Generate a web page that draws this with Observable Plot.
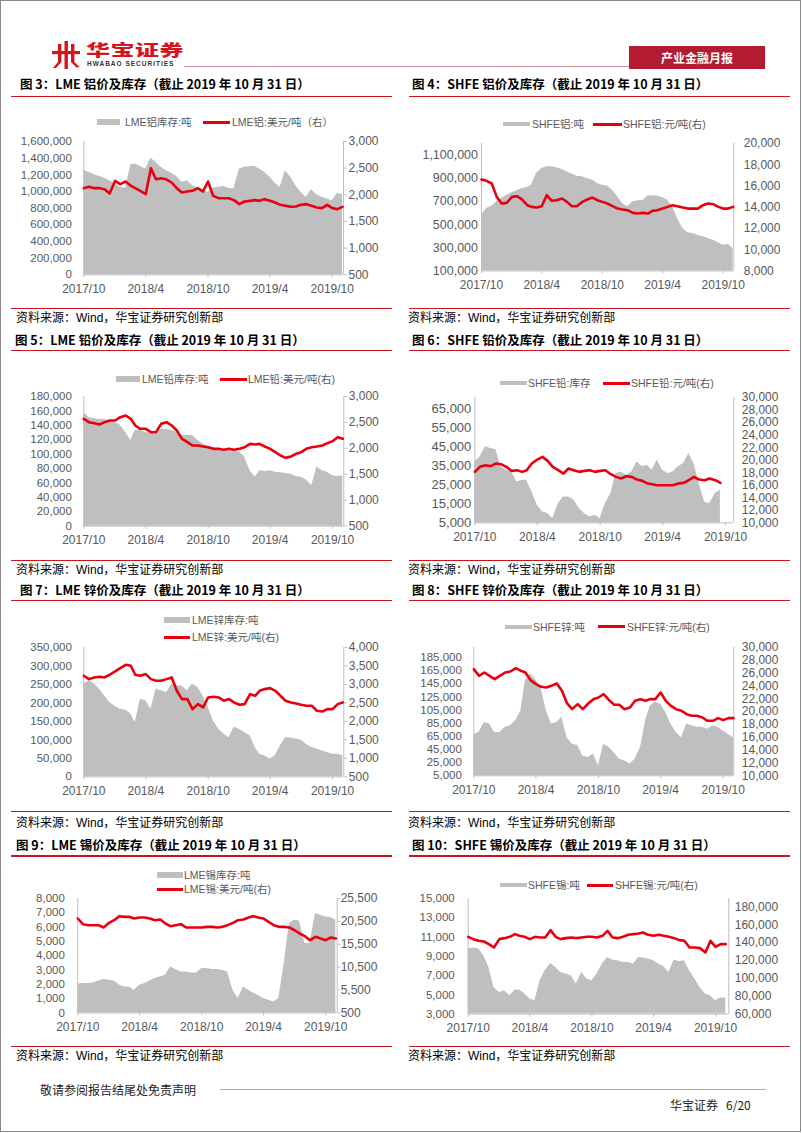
<!DOCTYPE html>
<html><head><meta charset="utf-8">
<script src="https://cdn.jsdelivr.net/npm/d3@7"></script>
<script src="https://cdn.jsdelivr.net/npm/@observablehq/plot@0.6"></script>
<style>
body{margin:0;background:#fff;}
#page{position:relative;width:802px;height:1133px;overflow:hidden;background:#fff;font-family:"Liberation Sans",Arial,"Noto Sans CJK SC",sans-serif;}
.frame{position:absolute;left:0;top:0;width:801px;height:1132px;border:1px solid #8a8a8a;box-sizing:border-box;}
.t{position:absolute;white-space:nowrap;line-height:1;transform:translateY(-50%);}
.title{font-family:"Noto Sans CJK SC",sans-serif;font-weight:700;font-size:12.5px;color:#000;}
.src{font-family:"Liberation Sans","Noto Sans CJK SC",sans-serif;font-size:12px;color:#000;}
.leg{font-family:"Liberation Sans","Noto Sans CJK SC",sans-serif;font-size:10.5px;color:#595959;}
.hl{position:absolute;background:#c8161e;height:1.6px;}
.sw{position:absolute;}
.chart{position:absolute;}
</style></head>
<body><div id="page"><div class="frame"></div></div>
<script>
// ---------- data ----------
const dates = ["2017-10-01","2017-10-16","2017-11-01","2017-11-16","2017-12-01","2017-12-16","2018-01-01","2018-01-16","2018-02-01","2018-02-16","2018-03-01","2018-03-16","2018-04-01","2018-04-16","2018-05-01","2018-05-16","2018-06-01","2018-06-16","2018-07-01","2018-07-16","2018-08-01","2018-08-16","2018-09-01","2018-09-16","2018-10-01","2018-10-16","2018-11-01","2018-11-16","2018-12-01","2018-12-16","2019-01-01","2019-01-16","2019-02-01","2019-02-16","2019-03-01","2019-03-16","2019-04-01","2019-04-16","2019-05-01","2019-05-16","2019-06-01","2019-06-16","2019-07-01","2019-07-16","2019-08-01","2019-08-16","2019-09-01","2019-09-16","2019-10-01","2019-10-16","2019-10-31"];
const xTickDates = ["2017-10-01","2018-04-01","2018-10-01","2019-04-01","2019-10-01"];
const xTickLabels = ["2017/10","2018/4","2018/10","2019/4","2019/10"];

const alLmeStock = [1256000,1230000,1200000,1180000,1160000,1130000,1090000,1050000,1040000,1320000,1330000,1300000,1270000,1400000,1350000,1290000,1250000,1220000,1180000,1110000,1130000,1070000,1040000,1020000,990000,1040000,1050000,1060000,1040000,1030000,1270000,1290000,1300000,1300000,1270000,1230000,1170000,1100000,1050000,1250000,1170000,1070000,990000,930000,1020000,960000,930000,910000,890000,980000,960000];
const alLmePrice = [2125,2150,2125,2125,2106,2025,2262,2200,2250,2170,2125,2075,2012,2500,2293,2312,2287,2231,2125,2044,2062,2075,2125,2062,2250,1981,1937,1937,1937,1900,1825,1875,1887,1900,1887,1919,1887,1856,1812,1794,1775,1781,1812,1825,1794,1762,1750,1812,1750,1731,1775];
const alShfeStock = [581000,639000,659000,697000,725000,754000,774000,792000,812000,820000,840000,941000,985000,999000,999000,990000,976000,956000,936000,918000,913000,898000,884000,855000,840000,832000,797000,740000,682000,653000,697000,705000,711000,746000,748000,746000,734000,711000,653000,552000,466000,429000,423000,408000,394000,380000,365000,342000,322000,330000,293000];
const alShfePrice = [16607,16480,16230,14970,14345,14408,14970,15035,14720,14190,14030,13970,14095,15130,14600,14660,14816,14500,14095,14095,14500,14720,14910,14660,14500,14345,14095,13870,13780,13716,13465,13400,13465,13400,13655,13716,13870,14030,14190,14095,13970,13870,13870,13870,14190,14345,14280,14030,13870,13870,14030];
const pbLmeStock = [158000,151000,149000,148000,148000,146000,144000,140000,130000,119000,133000,133000,130000,129000,128000,135000,134000,133000,130000,126000,126000,126000,119000,114000,111000,109000,107000,105000,105000,104000,103000,96000,77000,68000,77000,76000,77000,75000,74000,73000,72000,69000,68000,64000,56000,82000,77000,75000,70000,69000,70000];
const pbLmePrice = [2570,2505,2486,2460,2505,2537,2537,2602,2634,2570,2441,2377,2377,2312,2312,2473,2505,2441,2345,2184,2120,2055,2055,2036,2023,1991,1991,1972,1991,1972,1991,2023,2087,2075,2087,2036,1991,1927,1862,1817,1843,1895,1927,1991,2023,2036,2055,2100,2139,2216,2184];
const pbShfeStock = [37000,39600,44900,44000,43500,34400,32600,31700,26500,27400,27400,21300,14300,10800,9900,7300,15100,18600,18600,17200,12500,9900,8100,9000,7300,15100,20400,30900,31700,30000,31700,37000,34400,35200,32600,37900,32600,30900,31700,34400,36100,41400,36100,25600,16000,15100,20400,22100,null,null,null];
const pbShfePrice = [18138,18936,19202,19043,19468,19362,18936,18298,18404,18138,18404,19468,20106,20532,19894,18936,18404,17872,18670,18404,18138,18298,18404,18138,18298,18404,17766,17340,17074,17447,17340,16915,16702,16277,16170,16010,16010,16010,16010,16277,16383,16808,17340,16915,16808,17074,16808,16383,null,null,null];
const znLmeStock = [251000,260000,251000,237000,219000,201000,190000,183000,180000,170000,147000,210000,206000,183000,237000,233000,228000,251000,246000,246000,233000,251000,242000,219000,188000,152000,129000,116000,106000,134000,129000,120000,111000,79000,61000,57000,48000,57000,84000,106000,105000,102000,99000,88000,79000,75000,70000,66000,61000,61000,57000];
const znLmePrice = [3235,3144,3190,3207,3190,3262,3352,3442,3532,3505,3262,3235,3280,3144,3099,3099,3144,3190,2828,2603,2603,2332,2467,2377,2648,2666,2648,2558,2603,2513,2449,2467,2738,2693,2828,2874,2900,2828,2693,2558,2513,2485,2449,2422,2422,2287,2269,2332,2332,2467,2513];
const znShfeStock = [68000,71000,86000,84000,71000,71000,79000,81000,89000,104000,150000,160000,150000,139000,104000,84000,86000,94000,63000,53000,51000,35000,33000,38000,20000,53000,48000,40000,30000,28000,23000,30000,48000,89000,111000,117000,114000,101000,84000,71000,63000,84000,81000,79000,79000,76000,81000,79000,73000,68000,63000];
const znShfePrice = [26623,25584,26104,25584,25065,25584,26104,26260,26780,26364,26104,24910,24286,23871,23767,24026,24390,23247,21273,20390,21169,20390,21273,21948,22208,22727,21792,21065,21065,20390,20650,21688,21948,21688,21948,21948,22987,21688,20910,20390,20130,19610,19351,19351,19091,18571,18571,18987,18675,18987,18987];
const snLmeStock = [2005,2051,2051,2098,2238,2331,2284,2238,1935,1818,1818,1585,1935,2051,2238,2401,2517,2634,3217,3031,2867,2867,2797,2797,3100,3100,3031,3031,2984,2867,1585,1002,1818,1585,1399,1235,1002,886,769,1002,3450,6247,6480,6434,4849,4849,6946,6830,6713,6667,6480];
const snLmePrice = [21128,19889,19670,19670,19670,19160,20180,20763,21638,21492,21492,21128,21346,21346,21128,20763,20909,20034,19451,19670,19889,19160,19160,19160,19160,19306,19306,19160,19306,19670,20180,20763,20909,21346,21638,21346,21128,20399,19670,19306,19306,19160,18577,17848,17265,16390,17119,16754,16390,16973,16754];
const snShfeStock = [9747,9851,9747,9055,7844,5768,5249,5422,4903,5491,5491,5145,4557,4384,6460,7498,8259,7844,7325,7152,6979,6114,7325,6633,6460,7152,8190,8882,8605,8536,8363,8363,8190,8882,8813,8709,8536,8190,7913,7325,8605,8467,8536,7498,6633,5768,5076,4903,4384,4661,4661];
const snShfePrice = [146443,143835,141972,141227,138246,134520,143835,144953,146443,149424,147561,146443,143835,146443,145698,145698,153895,146443,143835,144953,145698,144953,145698,146443,146443,145698,147561,153150,145698,144953,146443,148679,149424,150169,151287,148679,147561,148679,147561,146443,144953,142717,141972,134520,134520,133775,128931,141972,135265,138246,138246];

const alLmeLeftTicks = [0,200000,400000,600000,800000,1000000,1200000,1400000,1600000];
const alLmeRightTicks = [500,1000,1500,2000,2500,3000];
const alShfeLeftTicks = [100000,300000,500000,700000,900000,1100000];
const alShfeRightTicks = [8000,10000,12000,14000,16000,18000,20000];
const pbLmeLeftTicks = [0,20000,40000,60000,80000,100000,120000,140000,160000,180000];
const pbLmeRightTicks = [500,1000,1500,2000,2500,3000];
const pbShfeLeftTicks = [5000,15000,25000,35000,45000,55000,65000];
const pbShfeRightTicks = [10000,12000,14000,16000,18000,20000,22000,24000,26000,28000,30000];
const znLmeLeftTicks = [0,50000,100000,150000,200000,250000,300000,350000];
const znLmeRightTicks = [500,1000,1500,2000,2500,3000,3500,4000];
const znShfeLeftTicks = [5000,25000,45000,65000,85000,105000,125000,145000,165000,185000];
const znShfeRightTicks = [10000,12000,14000,16000,18000,20000,22000,24000,26000,28000,30000];
const snLmeLeftTicks = [0,1000,2000,3000,4000,5000,6000,7000,8000];
const snLmeRightTicks = [500,5500,10500,15500,20500,25500];
const snShfeLeftTicks = [3000,5000,7000,9000,11000,13000,15000];
const snShfeRightTicks = [60000,80000,100000,120000,140000,160000,180000];

const titles = ["图 3：LME 铝价及库存（截止 2019 年 10 月 31 日）","图 4：SHFE 铝价及库存（截止 2019 年 10 月 31 日）","图 5：LME 铅价及库存（截止 2019 年 10 月 31 日）","图 6：SHFE 铅价及库存（截止 2019 年 10 月 31 日）","图 7：LME 锌价及库存（截止 2019 年 10 月 31 日）","图 8：SHFE 锌价及库存（截止 2019 年 10 月 31 日）","图 9：LME 锡价及库存（截止 2019 年 10 月 31 日）","图 10：SHFE 锡价及库存（截止 2019 年 10 月 31 日）"];
const stockNames = ["LME铝库存:吨","SHFE铝:吨","LME铅库存:吨","SHFE铅:库存","LME锌库存:吨","SHFE锌:吨","LME锡库存:吨","SHFE锡:吨"];
const priceNames = ["LME铝:美元/吨（右）","SHFE铝:元/吨(右)","LME铅:美元/吨(右)","SHFE铅:元/吨(右)","LME锌:美元/吨(右)","SHFE锌:元/吨(右)","LME锡:美元/吨(右)","SHFE锡:元/吨(右)"];
const sourceText = "资料来源：Wind，华宝证券研究创新部";

// ---------- layout ----------
const GRAY = "#bfbfbf", RED = "#e8000f", AXIS = "#bfbfbf", TXT = "#595959";
const page = document.getElementById("page");
function el(cls, x, y, text, style) {
  const d = document.createElement("div");
  d.className = cls; d.style.left = x + "px"; d.style.top = y + "px";
  if (text != null) d.textContent = text;
  if (style) Object.assign(d.style, style);
  page.appendChild(d); return d;
}

const charts = [
  {stock: alLmeStock, price: alLmePrice, left: [0,1600000], right: [500,3000], lt: alLmeLeftTicks, rt: alLmeRightTicks,
   box: [83.3,343,140.7,274], xEnd: "2019-11-03", lpad: 12, lfs: 11.5, rts: 3, rpad: 2, shfe: false,
   leg: [[97,120,122,125],[203,230,122,232]]},
  {stock: alShfeStock, price: alShfePrice, left: [100000,1200000], right: [8000,20000], lt: alShfeLeftTicks, rt: alShfeRightTicks,
   box: [481,733.3,143.3,270.7], xEnd: "2019-11-02", lpad: 3.5, lfs: 12.5, rts: 0, rpad: 10, shfe: true,
   leg: [[503,530,124,532],[593,622,124,623]]},
  {stock: pbLmeStock, price: pbLmePrice, left: [0,180000], right: [500,3000], lt: pbLmeLeftTicks, rt: pbLmeRightTicks,
   box: [83.3,343.3,396,525.7], xEnd: "2019-11-03", lpad: 12, lfs: 11.5, rts: 3, rpad: 2, shfe: false,
   leg: [[116,140,379,142],[220,247,379,248]]},
  {stock: pbShfeStock, price: pbShfePrice, left: [5000,70770], right: [10000,30000], lt: pbShfeLeftTicks, rt: pbShfeRightTicks,
   box: [474.3,733.3,397.3,522.7], xEnd: "2019-10-25", lpad: 3.5, lfs: 13, rts: 0, rpad: 8, shfe: true,
   leg: [[500,527,383,528],[603,630,383,631]]},
  {stock: znLmeStock, price: znLmePrice, left: [0,350000], right: [500,4000], lt: znLmeLeftTicks, rt: znLmeRightTicks,
   box: [83.3,343.3,646.7,776], xEnd: "2019-11-03", lpad: 12, lfs: 11.5, rts: 3, rpad: 2, shfe: false,
   leg: [[164,190,620,192],[164,190,637,192]]},
  {stock: znShfeStock, price: znShfePrice, left: [5000,200230], right: [10000,30000], lt: znShfeLeftTicks, rt: znShfeRightTicks,
   box: [473.3,733.3,646.7,775], xEnd: "2019-11-01", lpad: 12, lfs: 11.5, rts: 0, rpad: 8, shfe: true,
   leg: [[505,532,626.7,533],[598,625,626.7,627]]},
  {stock: snLmeStock, price: snLmePrice, left: [0,8000], right: [500,25500], lt: snLmeLeftTicks, rt: snLmeRightTicks,
   box: [77.3,336.7,898.3,1012.7], xEnd: "2019-11-04", lpad: 13, lfs: 11.5, rts: 2.5, rpad: 1, shfe: false,
   leg: [[157,183,875,184],[157,183,889,184]]},
  {stock: snShfeStock, price: snShfePrice, left: [3000,15000], right: [60000,189300], lt: snShfeLeftTicks, rt: snShfeRightTicks,
   box: [467.7,728.3,897.7,1013.3], xEnd: "2019-11-09", lpad: 13.5, lfs: 11.5, rts: 0, rpad: 6, shfe: true,
   leg: [[500,527,885,528],[587,613,885,615]]}
];
const rowsY = [{title: 83.5, tline: 96.7, sline: 308.3, src: 318}, {title: 340, tline: 350.7, sline: 560.7, src: 570},
               {title: 590, tline: 600.5, sline: 811.7, src: 823}, {title: 845, tline: 856, sline: 1046.7, src: 1056}];
const titleX = [[20,412],[15,412],[20,412],[16,412]];

// header
const logo = document.createElementNS("http://www.w3.org/2000/svg","svg");
logo.setAttribute("width","28"); logo.setAttribute("height","28");
logo.style.position = "absolute"; logo.style.left = "52px"; logo.style.top = "41px";
logo.innerHTML = '<g fill="#d4151f"><rect x="0" y="10" width="28" height="3.2"/><rect x="6" y="3" width="3.4" height="18"/><rect x="12.5" y="0" width="3.4" height="28"/><rect x="19" y="3" width="3.4" height="18"/><path d="M6 21 L9.4 21 L4 27 L1 27 Z"/><path d="M19 21 L22.4 21 L27.5 26 L24.5 26.5 Z"/></g>';
page.appendChild(logo);
el("t", 86, 50.3, "华宝证券", {fontFamily:"'Noto Sans CJK SC'", fontWeight:"900", fontSize:"15.5px", color:"#d4151f", transform:"translateY(-50%) scaleX(1.55)", transformOrigin:"left center", letterSpacing:"0.3px"});
el("t", 87, 63.8, "HWABAO SECURITIES", {fontFamily:"'Liberation Sans'", fontWeight:"700", fontSize:"6.5px", color:"#333", letterSpacing:"1px"});
el("hl", 184, 66.3, null, {width:"446px", height:"1px", background:"#cf8f98"});
el("sw", 629, 46, null, {width:"136px", height:"23px", background:"#b31b32"});
el("t", 697, 57.5, "产业金融月报", {fontFamily:"'Noto Sans CJK SC'", fontWeight:"700", fontSize:"12px", color:"#fff", transform:"translate(-50%,-50%)"});

// footer
el("t", 40, 1090, "敬请参阅报告结尾处免责声明", {fontFamily:"'Noto Sans CJK SC'", fontSize:"12px", color:"#222"});
el("hl", 220, 1089, null, {width:"546px", height:"1px", background:"#d99aa3"});
el("t", 670, 1105, "华宝证券   6/20", {fontFamily:"'Noto Sans CJK SC'", fontSize:"12px", color:"#222", whiteSpace:"pre"});

// panels
const fmt = d3.format(",");
const xStart = new Date("2017-10-01");
const xTicks = xTickDates.map(d => new Date(d));
const xLabelOf = new Map(xTicks.map((d, i) => [+d, xTickLabels[i]]));

charts.forEach((c, i) => {
  const row = Math.floor(i / 2), side = i % 2;
  const R = rowsY[row];
  const lineX = side === 0 ? 11 : 409;
  el("t title", titleX[row][side], R.title, titles[i]);
  el("hl", lineX, R.tline - 0.8, null, {width: "381px"});
  el("hl", lineX, R.sline - 0.8, null, {width: "381px"});
  el("t src", side === 0 ? 16 : 408, R.src, sourceText);

  // legend
  const [g, r] = c.leg;
  if (c.shfe) el("sw", g[0], g[2] - 2, null, {width: (g[1]-g[0]) + "px", height: "4px", background: GRAY});
  else el("sw", g[0], g[2] - 3, null, {width: (g[1]-g[0]) + "px", height: "6px", background: GRAY});
  el("t leg", g[3], g[2], stockNames[i]);
  el("sw", r[0], r[2] - 1.5, null, {width: (r[1]-r[0]) + "px", height: "3px", background: RED});
  el("t leg", r[3], r[2], priceNames[i]);

  // chart
  const [bx0, bx1, by0, by1] = c.box;
  const svgLeft = side === 0 ? 0 : 400, W = 400;
  const mt = 12, mb = 28;
  const H = (by1 - by0) + mt + mb;
  const [lo, hi] = c.left, [rlo, rhi] = c.right;
  const k = (hi - lo) / (rhi - rlo);
  const toL = p => lo + (p - rlo) * k;
  const fromL = v => rlo + (v - lo) / k;
  const xEnd = new Date(c.xEnd);
  const data = dates.map((d, j) => ({
    date: new Date(d),
    s: c.stock[j] == null ? NaN : c.stock[j],
    p: c.price[j] == null ? NaN : toL(c.price[j])
  }));
  const svg = Plot.plot({
    width: W, height: H,
    marginLeft: bx0 - svgLeft, marginRight: svgLeft + W - bx1, marginTop: mt, marginBottom: mb,
    x: {type: "utc", domain: [xStart, xEnd], label: null},
    y: {domain: [lo, hi], label: null},
    style: {fontFamily: "'Liberation Sans', Arial, sans-serif", fontSize: "11.5px", color: TXT, background: "transparent", overflow: "visible"},
    marks: [
      Plot.areaY(data, {x: "date", y1: () => lo, y2: "s", fill: GRAY}),
      Plot.ruleX([xStart], {stroke: AXIS}),
      Plot.ruleX([xEnd], {stroke: AXIS}),
      Plot.ruleY([lo], {stroke: AXIS}),
      Plot.lineY(data, {x: "date", y: "p", stroke: RED, strokeWidth: 2.6, strokeLinejoin: "round"}),
      Plot.axisY(c.lt, {anchor: "left", tickSize: 0, tickPadding: c.lpad, tickFormat: fmt, fontSize: c.lfs, label: null}),
      Plot.axisY(c.rt.map(toL), {anchor: "right", tickSize: c.rts, tickPadding: c.rpad, stroke: AXIS, fontSize: 12,
        tickFormat: v => fmt(Math.round(fromL(v))), label: null}),
      Plot.axisX(xTicks, {tickSize: 3, tickPadding: 6.2, stroke: AXIS, fontSize: 12, tickFormat: d => xLabelOf.get(+d), label: null})
    ]
  });
  const wrap = document.createElement("div");
  wrap.className = "chart";
  wrap.style.left = svgLeft + "px"; wrap.style.top = (by0 - mt) + "px";
  wrap.appendChild(svg);
  page.appendChild(wrap);
});
</script>
</body></html>
